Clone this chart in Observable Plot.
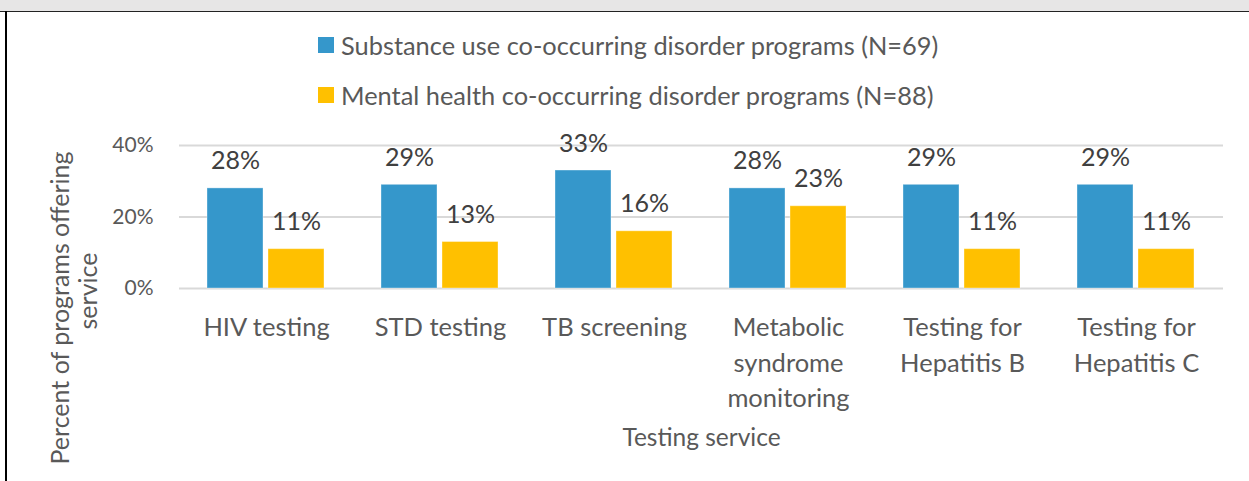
<!DOCTYPE html>
<html>
<head>
<meta charset="utf-8">
<script src="https://cdn.jsdelivr.net/npm/d3@7"></script>
<script src="https://cdn.jsdelivr.net/npm/@observablehq/plot@0.6"></script>
<style>
  html, body { margin: 0; padding: 0; background: #fff; overflow: hidden; }
  #frame { position: relative; width: 1249px; height: 481px; overflow: hidden; font-family: Lato, "Open Sans", sans-serif; }
  #band { position: absolute; left: 0; top: 0; width: 1249px; height: 11px; background: #e7e6e6; border-bottom: 1px solid #222; }
  #leftline { position: absolute; left: 5px; top: 11px; width: 2px; height: 470px; background: #000; }
  #legend { position: absolute; left: 318px; top: 30px; }
  .item { display: flex; align-items: center; height: 30px; margin-bottom: 20px; font-size: 25.4px; color: #595959; white-space: nowrap; }
  .swatch { width: 16px; height: 16px; margin-right: 7px; flex: none; }
  #chart { position: absolute; left: 0; top: 120px; }
</style>
</head>
<body>
<div id="frame">
  <div id="band"></div>
  <div id="leftline"></div>
  <div id="legend"></div>
  <div id="chart"></div>
</div>
<script>
const categories = ["HIV testing", "STD testing", "TB screening", "Metabolic syndrome monitoring", "Testing for Hepatitis B", "Testing for Hepatitis C"];
const tickLabels = ["HIV testing", "STD testing", "TB screening", "Metabolic\nsyndrome\nmonitoring", "Testing for\nHepatitis B", "Testing for\nHepatitis C"];
const seriesNames = ["Substance use co-occurring disorder programs (N=69)", "Mental health co-occurring disorder programs (N=88)"];
const substanceUse = [28, 29, 33, 28, 29, 29];
const mentalHealth = [11, 13, 16, 23, 11, 11];
const seriesColors = ["#3597cb", "#ffc000"];
const yTicks = [0, 20, 40];
const yTitleLines = ["Percent of programs offering", "service"];
const xTitle = "Testing service";

const data = [];
categories.forEach((c, i) => {
  data.push({category: c, series: seriesNames[0], value: substanceUse[i]});
  data.push({category: c, series: seriesNames[1], value: mentalHealth[i]});
});

// legend
const legend = document.getElementById("legend");
seriesNames.forEach((s, i) => {
  const item = document.createElement("div");
  item.className = "item";
  const sw = document.createElement("span");
  sw.className = "swatch";
  sw.style.background = seriesColors[i];
  const t = document.createElement("span");
  t.textContent = s;
  item.appendChild(sw);
  item.appendChild(t);
  legend.appendChild(item);
});

const first = () => categories[0];
const third = () => categories[2];

const chart = Plot.plot({
  width: 1249,
  height: 361,
  marginTop: 25,
  marginBottom: 193,
  marginLeft: 176,
  marginRight: 24,
  style: {fontFamily: "Lato, 'Open Sans', sans-serif", background: "transparent", overflow: "visible"},
  fx: {domain: categories, padding: 0, axis: null, label: null},
  x: {domain: seriesNames, paddingInner: 0.08, paddingOuter: 0.45, axis: null},
  y: {domain: [0, 40], axis: null},
  color: {domain: seriesNames, range: seriesColors},
  marks: [
    Plot.gridY(yTicks, {stroke: "#d9d9d9", strokeOpacity: 1, strokeWidth: 2}),
    Plot.barY(data, {fx: "category", x: "series", y: "value", fill: "series", stroke: "#ffffff", strokeOpacity: 0.35, strokeWidth: 1}),
    Plot.text(data, {fx: "category", x: "series", y: "value", text: d => d.value + "%", dy: -27, lineAnchor: "middle", fontSize: 25, fill: "#404040"}),
    Plot.axisY(yTicks, {tickFormat: d => d + "%", tickSize: 0, tickPadding: 26, fontSize: 21, fill: "#595959", label: null}),
    Plot.axisFx({anchor: "bottom", tickSize: 0, tickPadding: 22, fontSize: 25.5, lineHeight: 1.4, fill: "#595959", label: null,
      tickFormat: d => tickLabels[categories.indexOf(d)]}),
    Plot.text([yTitleLines[0]], {fx: first, frameAnchor: "left", rotate: -90, textAnchor: "middle", lineAnchor: "middle", dx: -119, dy: 91, fontSize: 25, fill: "#595959"}),
    Plot.text([yTitleLines[1]], {fx: first, frameAnchor: "left", rotate: -90, textAnchor: "middle", lineAnchor: "middle", dx: -91, dy: 74, fontSize: 25, fill: "#595959"}),
    Plot.text([xTitle], {fx: third, frameAnchor: "bottom-right", textAnchor: "middle", lineAnchor: "middle", dy: 150, fontSize: 24.5, fill: "#595959"})
  ]
});
document.getElementById("chart").appendChild(chart);
</script>
</body>
</html>
